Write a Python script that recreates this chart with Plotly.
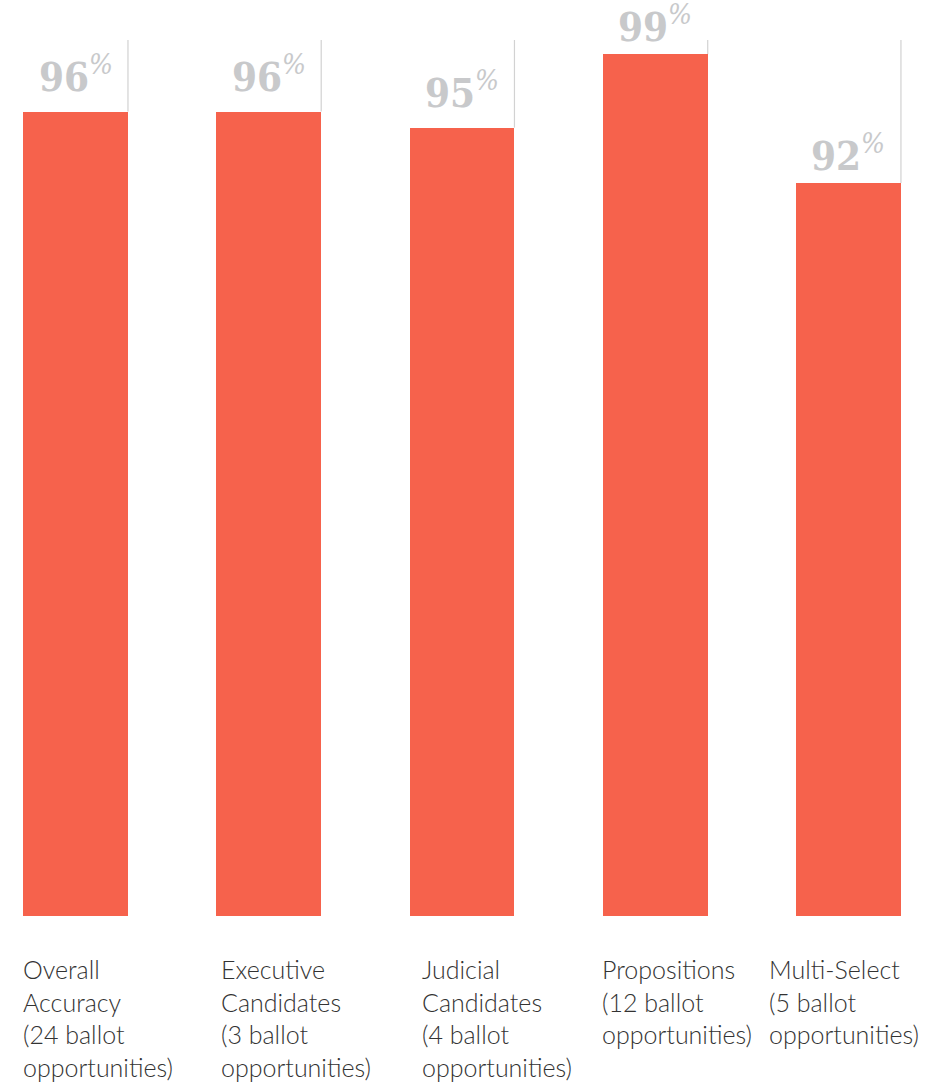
import plotly.graph_objects as go

categories = [
    "Overall<br>Accuracy<br>(24 ballot<br>opportunities)",
    "Executive<br>Candidates<br>(3 ballot<br>opportunities)",
    "Judicial<br>Candidates<br>(4 ballot<br>opportunities)",
    "Propositions<br>(12 ballot<br>opportunities)",
    "Multi-Select<br>(5 ballot<br>opportunities)",
]
accuracy = [96.0, 96.0, 95.1, 99.2, 92.0]
value_labels = ["96", "96", "95", "99", "92"]

axis_min, axis_max = 51, 100
bar_w = 0.543
label_shift_px = [-2, 3, 10, -3, -29]
value_label_lift_px = [10, 10, 10, 2, 2]

xs = list(range(len(categories)))
fig = go.Figure()
fig.add_trace(go.Bar(
    x=xs, y=accuracy, width=bar_w,
    marker=dict(color="#F6624C", line=dict(width=0)),
    hoverinfo="skip",
))

for i, (v, lab) in enumerate(zip(accuracy, value_labels)):
    fig.add_shape(type="line", xref="x", yref="y",
                  x0=i + bar_w / 2, x1=i + bar_w / 2, y0=v, y1=axis_max,
                  line=dict(color="#d2d2d2", width=1.2), layer="below")
    fig.add_annotation(
        x=i, y=v, xref="x", yref="y",
        text=f"<b>{lab}</b><sup><i>%</i></sup>",
        showarrow=False, yanchor="bottom", xanchor="center",
        yshift=value_label_lift_px[i],
        font=dict(family="DejaVu Serif Condensed, DejaVu Serif", size=40, color="#c8c9cb"),
    )
    fig.add_annotation(
        x=i - bar_w / 2, y=0, xref="x", yref="paper",
        text=categories[i], align="left",
        showarrow=False, xanchor="left", yanchor="top", yshift=-36,
        xshift=label_shift_px[i],
        font=dict(family="Lato", size=25, color="#333333", weight=300),
    )

fig.update_layout(
    width=934, height=1083,
    margin=dict(l=0, r=0, t=40, b=167),
    paper_bgcolor="white", plot_bgcolor="white",
    showlegend=False, bargap=0,
    xaxis=dict(range=[-0.3907, 4.4425], visible=False, fixedrange=True),
    yaxis=dict(range=[axis_min, axis_max], visible=False, fixedrange=True),
)

fig.write_html("out.html", config={"displayModeBar": False},
               post_script="document.body.style.margin='0';document.body.style.overflow='hidden';")
